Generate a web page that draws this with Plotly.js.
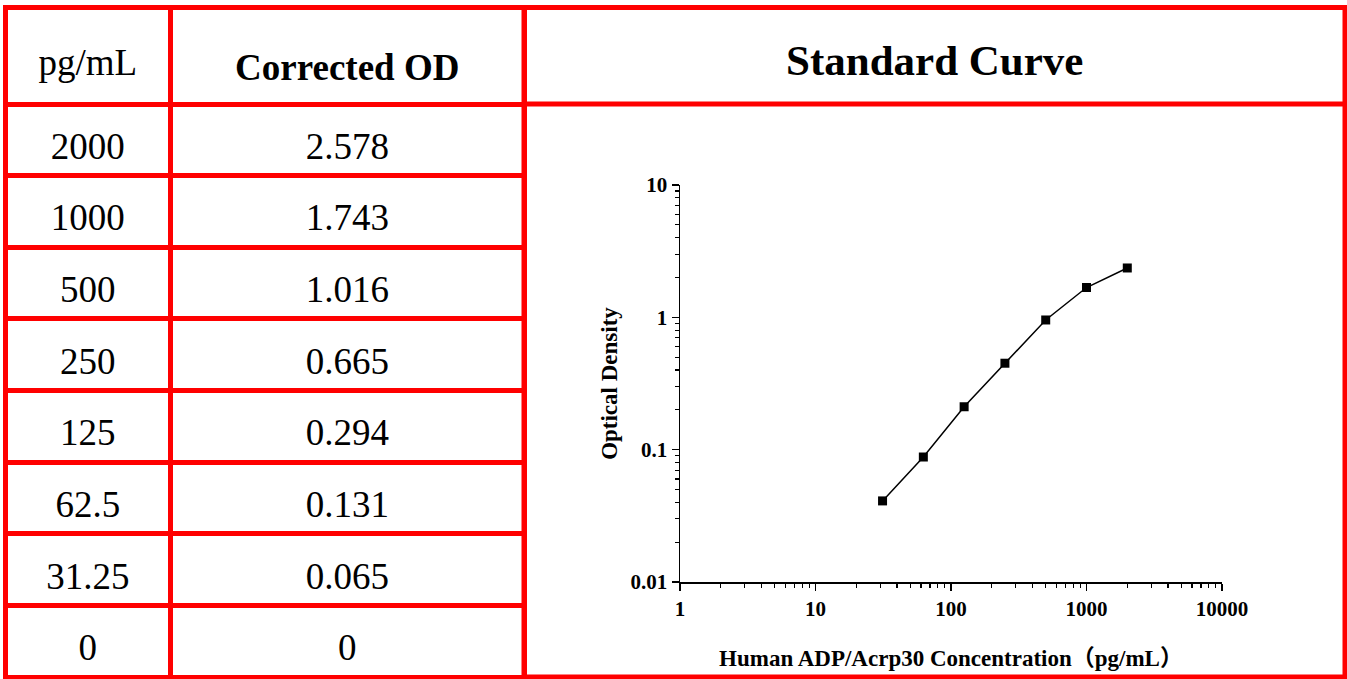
<!DOCTYPE html>
<html><head><meta charset="utf-8">
<script src="https://cdn.plot.ly/plotly-3.0.1.min.js"></script>
<style>
html,body{margin:0;padding:0;background:#fff;overflow:hidden}
#frame{width:1347px;height:679px;overflow:hidden;position:relative}
#chart{width:1347px;height:720px}
</style>
</head><body><div id="frame"><div id="chart"></div></div>
<script>
// ---- data ----
const tableHeaders = ['pg/mL', '<b>Corrected OD</b>'];
const concentrationLabels = ['2000', '1000', '500', '250', '125', '62.5', '31.25', '0'];
const correctedOD = ['2.578', '1.743', '1.016', '0.665', '0.294', '0.131', '0.065', '0'];
const curveTitle = 'Standard Curve';
const curveConc = [31.25, 62.5, 125, 250, 500, 1000, 2000];
const curveOD = [0.041, 0.088, 0.211, 0.45, 0.955, 1.68, 2.36];
const xTickVals = [1, 10, 100, 1000, 10000];
const xTickText = ['1', '10', '100', '1000', '10000'];
const yTickVals = [0.01, 0.1, 1, 10];
const yTickText = ['0.01', '0.1', '1', '10'];
const xTitle = 'Human ADP/Acrp30 Concentration（pg/mL）';
const yTitle = 'Optical Density';

// ---- layout helpers (figure is drawn a bit taller than the 679px window; the frame crops it) ----
const W = 1347, H = 720;
const px = v => v / W;
const py = v => 1 - v / H;
const RED = '#ff0000';
const SERIF = '"Liberation Serif", "Times New Roman", "Noto Sans CJK SC", serif';
const ROW_H = 71.625;
const HEAD_H = 96.5;

// grid of the two data columns (red cell borders)
const gridTable = {
  type: 'table',
  domain: {x: [px(5), px(524)], y: [0, py(7.5)]},
  columnwidth: [165.5, 353.5],
  header: {
    values: tableHeaders.map(() => ['']),
    height: HEAD_H,
    fill: {color: 'white'},
    line: {color: RED, width: 5},
    font: {family: SERIF, size: 37, color: 'black'}
  },
  cells: {
    values: [concentrationLabels.map(() => ''), correctedOD.map(() => '')],
    height: ROW_H,
    fill: {color: 'white'},
    line: {color: RED, width: 5},
    font: {family: SERIF, size: 37, color: 'black'}
  },
  hoverinfo: 'skip'
};

// text of the same cells, set lower so that it sits in the middle of each red cell
const textTable = {
  type: 'table',
  domain: {x: [px(5), px(524)], y: [0, py(39)]},
  columnwidth: [165.5, 353.5],
  header: {
    values: tableHeaders.map(h => [h]),
    align: 'center',
    height: 84,
    fill: {color: 'rgba(0,0,0,0)'},
    line: {color: 'rgba(0,0,0,0)', width: 0},
    font: {family: SERIF, size: 37, color: 'black'}
  },
  cells: {
    values: [concentrationLabels, correctedOD],
    align: 'center',
    height: ROW_H,
    fill: {color: 'rgba(0,0,0,0)'},
    line: {color: 'rgba(0,0,0,0)', width: 0},
    font: {family: SERIF, size: 37, color: 'black'}
  }
};

const curveTrace = {
  type: 'scatter',
  mode: 'lines+markers',
  x: curveConc,
  y: curveOD,
  xaxis: 'x', yaxis: 'y',
  line: {color: 'black', width: 1.5},
  marker: {symbol: 'square', size: 9, color: 'black'},
  showlegend: false
};

const tickFont = {family: SERIF, size: 21, color: 'black', weight: 'bold'};
const titleFont = {family: SERIF, size: 23, color: 'black', weight: 'bold'};
const layout = {
  width: W, height: H,
  margin: {l: 0, r: 0, t: 0, b: 0},
  paper_bgcolor: 'white',
  plot_bgcolor: 'rgba(0,0,0,0)',
  showlegend: false,
  xaxis: {
    type: 'log', range: [0, 4],
    domain: [px(680), px(1222)],
    anchor: 'y',
    showline: true, linecolor: 'black', linewidth: 1.5,
    showgrid: false, zeroline: false,
    ticks: 'outside', ticklen: 7, tickwidth: 1.5, tickcolor: 'black',
    tickvals: xTickVals, ticktext: xTickText,
    tickfont: tickFont,
    minor: {tickvals: [2,3,4,5,6,7,8,9,20,30,40,50,60,70,80,90,200,300,400,500,600,700,800,900,2000,3000,4000,5000,6000,7000,8000,9000],
            ticks: 'outside', ticklen: 4, tickwidth: 1.2, tickcolor: 'black', showgrid: false},
    title: {text: xTitle, font: titleFont, standoff: 30}
  },
  yaxis: {
    type: 'log', range: [-2, 1],
    domain: [py(582), py(185)],
    anchor: 'x',
    showline: true, linecolor: 'black', linewidth: 1.5,
    showgrid: false, zeroline: false,
    ticks: 'outside', ticklen: 7, tickwidth: 1.5, tickcolor: 'black',
    tickvals: yTickVals, ticktext: yTickText,
    tickfont: tickFont,
    minor: {tickvals: [0.02,0.03,0.04,0.05,0.06,0.07,0.08,0.09,0.2,0.3,0.4,0.5,0.6,0.7,0.8,0.9,2,3,4,5,6,7,8,9],
            ticks: 'outside', ticklen: 4, tickwidth: 1.2, tickcolor: 'black', showgrid: false},
    title: {text: yTitle, font: titleFont, standoff: 6}
  },
  shapes: [
    {type: 'rect', xref: 'paper', yref: 'paper', x0: px(524), x1: px(1345), y0: py(677), y1: py(7.5),
     line: {color: RED, width: 5}, fillcolor: 'rgba(0,0,0,0)', layer: 'above'},
    {type: 'line', xref: 'paper', yref: 'paper', x0: px(524), x1: px(1345), y0: py(104), y1: py(104),
     line: {color: RED, width: 5}, layer: 'above'}
  ],
  annotations: [
    {text: '<b>' + curveTitle + '</b>', xref: 'paper', yref: 'paper', x: px(934.5), y: py(60),
     xanchor: 'center', yanchor: 'middle', showarrow: false,
     font: {family: SERIF, size: 43, color: 'black'}}
  ]
};

Plotly.newPlot('chart', [gridTable, textTable, curveTrace], layout, {displayModeBar: false, staticPlot: true});
</script>
</body></html>
